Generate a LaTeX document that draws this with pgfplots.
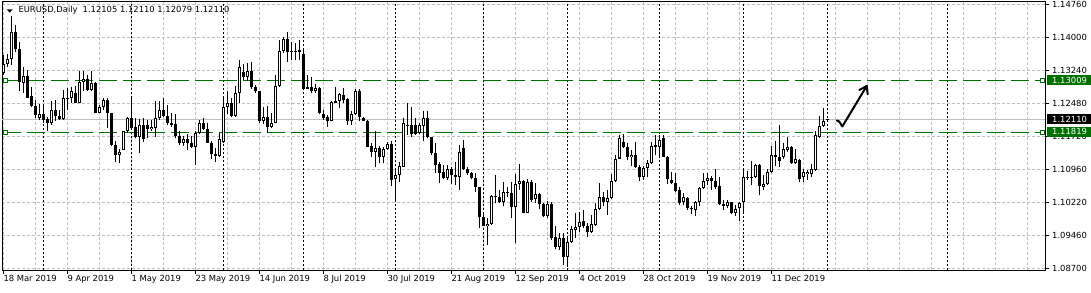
\documentclass[border=0pt]{standalone}
\usepackage{fontspec}
\setmainfont{DejaVu Sans}
\usepackage{pgfplots}
\pgfplotsset{compat=1.18}
\usepackage{pgfplotstable}
\definecolor{gridgray}{RGB}{192,192,192}
\definecolor{lvlgreen}{RGB}{0,112,0}

\pgfplotstableread{
i o h l c
0 1.1318 1.1360 1.1314 1.1338
1 1.1338 1.1361 1.1333 1.1351
2 1.1350 1.1449 1.1337 1.1412
3 1.1412 1.1429 1.1367 1.1373
4 1.1373 1.1390 1.1276 1.1298
5 1.1296 1.1333 1.1272 1.1311
6 1.1311 1.1325 1.1260 1.1262
7 1.1266 1.1285 1.1241 1.1243
8 1.1243 1.1256 1.1214 1.1222
9 1.1214 1.1247 1.1210 1.1224
10 1.1224 1.1247 1.1203 1.1210
11 1.1212 1.1217 1.1184 1.1203
12 1.1203 1.1255 1.1199 1.1233
13 1.1233 1.1256 1.1207 1.1220
14 1.1220 1.1233 1.1210 1.1212
15 1.1212 1.1279 1.1210 1.1260
16 1.1260 1.1283 1.1233 1.1258
17 1.1262 1.1285 1.1249 1.1276
18 1.1272 1.1288 1.1249 1.1250
19 1.1250 1.1324 1.1249 1.1298
20 1.1298 1.1324 1.1276 1.1304
21 1.1304 1.1314 1.1276 1.1279
22 1.1279 1.1324 1.1276 1.1295
23 1.1295 1.1298 1.1226 1.1227
24 1.1227 1.1245 1.1226 1.1241
25 1.1240 1.1262 1.1233 1.1256
26 1.1256 1.1262 1.1191 1.1226
27 1.1226 1.1227 1.1151 1.1153
28 1.1153 1.1163 1.1115 1.1129
29 1.1129 1.1143 1.1111 1.1138
30 1.1142 1.1186 1.1142 1.1184
31 1.1184 1.1217 1.1180 1.1214
32 1.1214 1.1262 1.1188 1.1191
33 1.1195 1.1214 1.1168 1.1171
34 1.1171 1.1212 1.1135 1.1199
35 1.1199 1.1214 1.1161 1.1166
36 1.1199 1.1210 1.1168 1.1189
37 1.1189 1.1210 1.1184 1.1194
38 1.1191 1.1253 1.1172 1.1214
39 1.1214 1.1253 1.1210 1.1233
40 1.1233 1.1262 1.1217 1.1220
41 1.1220 1.1245 1.1199 1.1203
42 1.1203 1.1226 1.1195 1.1200
43 1.1201 1.1224 1.1168 1.1174
44 1.1174 1.1186 1.1153 1.1157
45 1.1158 1.1174 1.1151 1.1166
46 1.1166 1.1178 1.1142 1.1158
47 1.1158 1.1174 1.1145 1.1149
48 1.1149 1.1184 1.1107 1.1181
49 1.1181 1.1210 1.1178 1.1204
50 1.1204 1.1214 1.1188 1.1189
51 1.1189 1.1203 1.1157 1.1158
52 1.1158 1.1163 1.1122 1.1132
53 1.1132 1.1145 1.1115 1.1128
54 1.1128 1.1181 1.1125 1.1166
55 1.1161 1.1260 1.1157 1.1240
56 1.1240 1.1276 1.1224 1.1250
57 1.1250 1.1260 1.1218 1.1220
58 1.1220 1.1288 1.1217 1.1273
59 1.1273 1.1348 1.1250 1.1331
60 1.1320 1.1339 1.1302 1.1310
61 1.1310 1.1341 1.1301 1.1324
62 1.1324 1.1344 1.1281 1.1285
63 1.1285 1.1291 1.1272 1.1276
64 1.1276 1.1278 1.1203 1.1209
65 1.1209 1.1241 1.1201 1.1217
66 1.1217 1.1243 1.1181 1.1194
67 1.1194 1.1226 1.1191 1.1204
68 1.1204 1.1314 1.1203 1.1289
69 1.1289 1.1394 1.1287 1.1369
70 1.1369 1.1402 1.1364 1.1396
71 1.1396 1.1412 1.1344 1.1366
72 1.1367 1.1390 1.1348 1.1366
73 1.1369 1.1386 1.1348 1.1366
74 1.1371 1.1393 1.1348 1.1367
75 1.1362 1.1370 1.1279 1.1282
76 1.1285 1.1314 1.1281 1.1282
77 1.1285 1.1310 1.1272 1.1276
78 1.1276 1.1293 1.1272 1.1283
79 1.1283 1.1285 1.1224 1.1226
80 1.1224 1.1233 1.1210 1.1214
81 1.1217 1.1222 1.1194 1.1209
82 1.1209 1.1255 1.1207 1.1251
83 1.1254 1.1285 1.1249 1.1250
84 1.1255 1.1273 1.1237 1.1269
85 1.1267 1.1283 1.1249 1.1256
86 1.1258 1.1260 1.1199 1.1209
87 1.1209 1.1230 1.1199 1.1224
88 1.1224 1.1281 1.1222 1.1276
89 1.1276 1.1281 1.1207 1.1218
90 1.1214 1.1217 1.1207 1.1208
91 1.1208 1.1210 1.1148 1.1149
92 1.1151 1.1157 1.1126 1.1138
93 1.1138 1.1186 1.1102 1.1145
94 1.1145 1.1151 1.1111 1.1125
95 1.1125 1.1149 1.1111 1.1143
96 1.1143 1.1161 1.1142 1.1155
97 1.1155 1.1163 1.1059 1.1073
98 1.1074 1.1097 1.1023 1.1084
99 1.1084 1.1115 1.1069 1.1105
100 1.1103 1.1214 1.1102 1.1203
101 1.1200 1.1249 1.1176 1.1197
102 1.1199 1.1241 1.1172 1.1178
103 1.1199 1.1214 1.1176 1.1178
104 1.1180 1.1204 1.1178 1.1199
105 1.1197 1.1230 1.1163 1.1214
106 1.1214 1.1230 1.1168 1.1171
107 1.1171 1.1172 1.1130 1.1135
108 1.1135 1.1157 1.1088 1.1107
109 1.1110 1.1115 1.1065 1.1089
110 1.1091 1.1107 1.1074 1.1077
111 1.1077 1.1107 1.1073 1.1097
112 1.1097 1.1103 1.1064 1.1084
113 1.1084 1.1113 1.1061 1.1079
114 1.1079 1.1153 1.1050 1.1136
115 1.1145 1.1165 1.1096 1.1097
116 1.1097 1.1103 1.1084 1.1088
117 1.1088 1.1092 1.1074 1.1077
118 1.1077 1.1089 1.1046 1.1056
119 1.1056 1.1057 1.0962 1.0987
120 1.0987 1.1000 1.0966 1.0967
121 1.0967 1.0985 1.0924 1.0972
122 1.0972 1.1038 1.0969 1.1036
123 1.1033 1.1084 1.1019 1.1034
124 1.1034 1.1050 1.1019 1.1023
125 1.1023 1.1067 1.1012 1.1046
126 1.1046 1.1057 1.1034 1.1042
127 1.1042 1.1067 1.0985 1.1010
128 1.1010 1.1086 1.0927 1.1063
129 1.1063 1.1110 1.1050 1.1071
130 1.1071 1.1073 1.0996 1.0998
131 1.0998 1.1074 1.0996 1.1069
132 1.1069 1.1073 1.1023 1.1027
133 1.1029 1.1065 1.1019 1.1040
134 1.1040 1.1042 1.1005 1.1017
135 1.1017 1.1019 1.0987 1.0990
136 1.0991 1.1025 1.0985 1.1017
137 1.1017 1.1023 1.0936 1.0939
138 1.0941 1.0967 1.0914 1.0918
139 1.0918 1.0950 1.0911 1.0940
140 1.0940 1.0950 1.0878 1.0897
141 1.0897 1.0943 1.0874 1.0931
142 1.0931 1.0966 1.0929 1.0960
143 1.0958 1.0996 1.0939 1.0964
144 1.0964 1.1000 1.0954 1.0977
145 1.0979 1.1004 1.0962 1.0967
146 1.0967 1.0975 1.0941 1.0954
147 1.0953 1.0992 1.0950 1.0971
148 1.0969 1.1019 1.0967 1.1005
149 1.1005 1.1065 1.1004 1.1034
150 1.1033 1.1044 1.1012 1.1023
151 1.1023 1.1050 1.0992 1.1031
152 1.1031 1.1086 1.1029 1.1071
153 1.1071 1.1130 1.1069 1.1122
154 1.1122 1.1176 1.1120 1.1168
155 1.1159 1.1178 1.1145 1.1148
156 1.1149 1.1158 1.1119 1.1126
157 1.1125 1.1142 1.1105 1.1130
158 1.1130 1.1161 1.1100 1.1102
159 1.1102 1.1107 1.1071 1.1079
160 1.1079 1.1105 1.1073 1.1100
161 1.1100 1.1119 1.1079 1.1111
162 1.1111 1.1161 1.1110 1.1151
163 1.1149 1.1176 1.1130 1.1152
164 1.1149 1.1176 1.1126 1.1165
165 1.1168 1.1176 1.1125 1.1126
166 1.1126 1.1128 1.1064 1.1074
167 1.1073 1.1092 1.1064 1.1065
168 1.1065 1.1088 1.1044 1.1048
169 1.1050 1.1057 1.1015 1.1019
170 1.1021 1.1042 1.1015 1.1033
171 1.1031 1.1033 1.1004 1.1008
172 1.1008 1.1012 1.0995 1.1005
173 1.1004 1.1025 1.0989 1.1022
174 1.1022 1.1056 1.1013 1.1054
175 1.1054 1.1089 1.1051 1.1071
176 1.1071 1.1088 1.1061 1.1077
177 1.1077 1.1082 1.1050 1.1071
178 1.1070 1.1097 1.1051 1.1056
179 1.1059 1.1080 1.1015 1.1017
180 1.1017 1.1027 1.1004 1.1013
181 1.1012 1.1027 1.1008 1.1022
182 1.1022 1.1023 1.0995 1.0998
183 1.0998 1.1015 1.0989 1.1006
184 1.1008 1.1023 1.0979 1.1019
185 1.1021 1.1097 1.1000 1.1079
186 1.1079 1.1094 1.1073 1.1077
187 1.1077 1.1116 1.1061 1.1080
188 1.1079 1.1110 1.1077 1.1106
189 1.1106 1.1110 1.1038 1.1060
190 1.1056 1.1084 1.1050 1.1064
191 1.1064 1.1097 1.1061 1.1092
192 1.1092 1.1151 1.1089 1.1130
193 1.1130 1.1163 1.1105 1.1125
194 1.1125 1.1199 1.1103 1.1117
195 1.1126 1.1157 1.1122 1.1143
196 1.1142 1.1172 1.1138 1.1149
197 1.1148 1.1151 1.1110 1.1111
198 1.1111 1.1143 1.1110 1.1120
199 1.1119 1.1120 1.1069 1.1074
200 1.1079 1.1097 1.1069 1.1090
201 1.1086 1.1096 1.1073 1.1092
202 1.1086 1.1110 1.1080 1.1097
203 1.1096 1.1186 1.1094 1.1176
204 1.1172 1.1220 1.1168 1.1197
205 1.1197 1.1237 1.1195 1.1207
206 1.12105 1.12110 1.12079 1.12110
}\candles

\pgfplotsset{
  candle part/.style={only marks, mark=*, mark size=0pt,
    mark options={draw=none, fill=none}, forget plot},
}

\begin{document}
\fontsize{8.4}{10}\selectfont
\begin{tikzpicture}[x=1pt,y=1pt]
\useasboundingbox (-2,-22) rectangle (1089,270);
\begin{axis}[
  at={(0,0)}, anchor=south west,
  scale only axis, width=1043pt, height=268pt,
  xmin=-0.325, xmax=260.425,
  ymin=1.086604, ymax=1.148128,
  axis line style={black, line width=1pt},
  every tick label/.append style={font=\fontsize{8.4}{10}\selectfont, black},
  tick align=outside,
  major tick length=4pt,
  minor tick length=0pt,
  tick style={black, line width=1pt},
  xtick pos=lower, xticklabel pos=lower,
  ytick pos=upper, yticklabel pos=upper,
  xtick={0,16,...,192},
  xticklabels={18 Mar 2019,9 Apr 2019,1 May 2019,23 May 2019,14 Jun 2019,8 Jul 2019,30 Jul 2019,21 Aug 2019,12 Sep 2019,4 Oct 2019,28 Oct 2019,19 Nov 2019,11 Dec 2019},
  minor xtick={8,24,...,184,200,208,...,256},
  ytick={1.087,1.094575,1.10215,1.109725,1.1173,1.124875,1.13245,1.140025,1.1476},
  yticklabels={1.08700,1.09460,1.10220,1.10960,1.11720,1.12480,1.13240,1.14000,\raisebox{-3pt}{1.14760}},
  xticklabel style={anchor=north west, inner sep=0pt, yshift=-1pt},
  yticklabel style={anchor=west, inner sep=0pt, xshift=3pt},
  grid=both,
  major grid style={gridgray, line width=1pt, dash pattern=on 3pt off 2pt},
  minor grid style={gridgray, line width=1pt, dash pattern=on 3pt off 2pt},
  extra x ticks={10,32,55,75,98,120,141,164,185,206,236},
  extra x tick labels={},
  extra x tick style={grid=major, major tick length=0pt,
    major grid style={black, line width=1pt, dash pattern=on 2pt off 2pt}},
]
% level lines
\draw[gridgray, line width=1pt] (axis cs:-0.325,1.1211) -- (axis cs:260.425,1.1211);
\draw[lvlgreen, line width=1pt, dash pattern=on 18pt off 6pt] (axis cs:0,1.13009) -- (axis cs:260.4,1.13009);
\draw[lvlgreen, line width=1pt, dash pattern=on 18pt off 6pt] (axis cs:0,1.11819) -- (axis cs:260.4,1.11819);
\node[draw=lvlgreen, fill=white, minimum size=4pt, inner sep=0pt, line width=1pt] at (axis cs:0.5,1.13009) {};
\node[draw=lvlgreen, fill=white, minimum size=4pt, inner sep=0pt, line width=1pt] at (axis cs:0.5,1.11819) {};
\node[draw=lvlgreen, fill=white, minimum size=4pt, inner sep=0pt, line width=1pt] at (axis cs:259.75,1.13009) {};
\node[draw=lvlgreen, fill=white, minimum size=4pt, inner sep=0pt, line width=1pt] at (axis cs:259.75,1.11819) {};
% wicks
\addplot[candle part,
  error bars/.cd, y dir=plus, y explicit, error mark=none,
  error bar style={line width=1pt, draw=black}]
  table[x=i, y=l, y error expr={\thisrow{h}-\thisrow{l}}] {\candles};
% bodies (outline / black fill)
\addplot[candle part,
  error bars/.cd, y dir=plus, y explicit, error mark=none,
  error bar style={line width=3pt, draw=black}]
  table[x=i, y expr={min(\thisrow{o},\thisrow{c})}, y error expr={max(abs(\thisrow{c}-\thisrow{o}),0.00023)}] {\candles};
% white interior of bullish bodies
\addplot[candle part,
  error bars/.cd, y dir=plus, y explicit, error mark=none,
  error bar style={line width=1pt, draw=white}]
  table[x=i, y expr={\thisrow{o}+0.00023}, y error expr={max(\thisrow{c}-\thisrow{o}-0.00046,0)}] {\candles};
\end{axis}
% header
\fill[black] (4.7,260.7) -- (10.7,260.7) -- (7.7,257.3) -- cycle;
\node[anchor=west, inner sep=0pt, font=\fontsize{8.4}{10}\selectfont] at (16.3,259.5) {EURUSD,Daily\hspace{5pt}1.12105 1.12110 1.12079 1.12110};
% price boxes
\fill[lvlgreen] (1045,184.7) rectangle (1089,195.3);
\node[anchor=west, inner sep=0pt, text=white, font=\fontsize{8.4}{10}\selectfont] at (1050,190) {1.13009};
\fill[black] (1045,145.7) rectangle (1089,155.7);
\node[anchor=west, inner sep=0pt, text=white, font=\fontsize{8.4}{10}\selectfont] at (1050,150.7) {1.12110};
\fill[lvlgreen] (1045,133.3) rectangle (1089,143.3);
\node[anchor=west, inner sep=0pt, text=white, font=\fontsize{8.4}{10}\selectfont] at (1050,138.3) {1.11819};
% arrow
\draw[black, line width=2pt, line cap=round, line join=round]
  (834.7,149.5) .. controls (837.5,149.5) and (838.5,146) .. (840.3,143.5) -- (864.7,184);
\draw[black, line width=2pt, line cap=round, line join=round]
  (857.3,180) -- (864.7,184) -- (865.7,175.7);
\end{tikzpicture}
\end{document}
